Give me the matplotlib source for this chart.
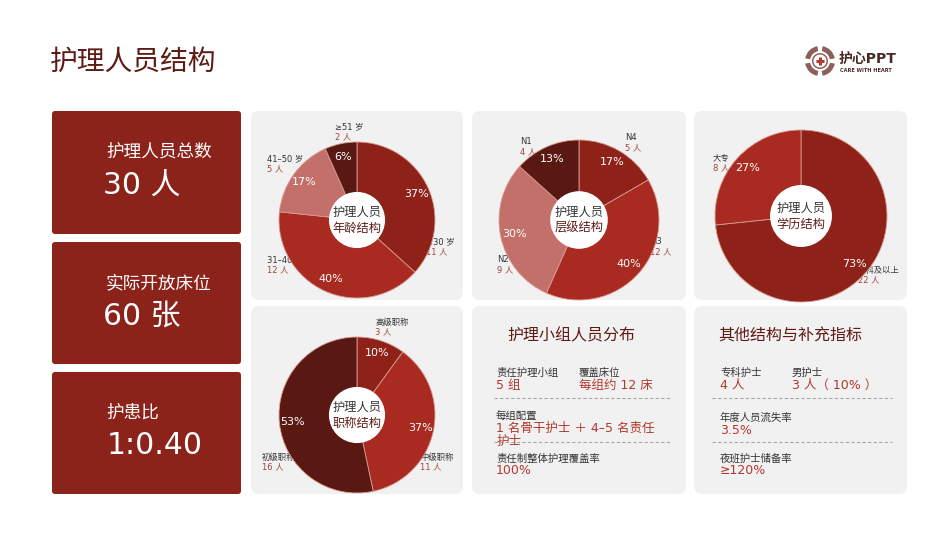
import matplotlib
matplotlib.use("Agg")
import matplotlib.pyplot as plt
from matplotlib.patches import FancyBboxPatch, Circle, Wedge
import numpy as np

plt.rcParams['font.family'] = ['DejaVu Sans', 'Noto Sans CJK SC']

# ---- data ----
age_names = ["≤30 岁", "31–40 岁", "41–50 岁", "≥51 岁"]
age_counts = [11, 12, 5, 2]
age_pcts = ["37%", "40%", "17%", "6%"]

level_names = ["N4", "N3", "N2", "N1"]
level_counts = [5, 12, 9, 4]
level_pcts = ["17%", "40%", "30%", "13%"]

edu_names = ["本科及以上", "大专"]
edu_counts = [22, 8]
edu_pcts = ["73%", "27%"]

rank_names = ["高级职称", "中级职称", "初级职称"]
rank_counts = [3, 11, 16]
rank_pcts = ["10%", "37%", "53%"]

card_labels = ["护理人员总数", "实际开放床位", "护患比"]
card_values = ["30 人", "60 张", "1:0.40"]

# ---- colours ----
CARD = "#8B231B"
PANEL = "#F2F1F1"
TITLE = "#5E1B14"
VALUE = "#B0392D"
COUNT = "#A0453B"
DARK = "#8E2219"
BRIGHT = "#A92A20"
PINK = "#C4706A"
DARKEST = "#5A1812"

W, H = 950, 535
fig = plt.figure(figsize=(W / 100, H / 100), dpi=100)
fig.patch.set_facecolor("white")
bg = fig.add_axes([0, 0, 1, 1])
bg.set_xlim(0, W)
bg.set_ylim(H, 0)
bg.axis("off")
bg.set_zorder(0)


def box(x0, y0, x1, y1, color, r):
    bg.add_patch(FancyBboxPatch((x0, y0), x1 - x0, y1 - y0,
                                boxstyle=f"round,pad=0,rounding_size={r}",
                                fc=color, ec="none"))


# title
bg.text(50, 62, "护理人员结构", fontsize=20, color=TITLE, va="center", ha="left")

# logo: broken ring, white disc, red cross
for a0, a1 in [(100, 170), (190, 260), (280, 350), (10, 80)]:
    bg.add_patch(Wedge((820, 61), 15, a0, a1, width=5, fc="#8d5f5a", ec="none"))
bg.add_patch(Circle((820, 61), 8, fc="#8d5f5a", ec="none"))
bg.add_patch(Circle((820, 61), 6.5, fc="white", ec="none"))
bg.plot([820, 820], [57, 65], color="#b33a30", lw=2.2, solid_capstyle="butt")
bg.plot([816, 824], [61, 61], color="#b33a30", lw=2.2, solid_capstyle="butt")
bg.text(839, 59, "护心PPT", fontsize=10, fontweight="bold", color="#4a2a27", va="center")
bg.text(840, 70, "CARE WITH HEART", fontsize=3.6, fontweight="bold", color="#4a2a27", va="center")

# left cards
card_rows = [(111, 234), (242, 364), (372, 494)]
card_val_x = [103, 103, 107]
for (y0, y1), lab, val, vx in zip(card_rows, card_labels, card_values, card_val_x):
    box(52, y0, 241, y1, CARD, 3)
    bg.text(106, y0 + 41, lab, fontsize=12.7, color="white", va="center")
    bg.text(vx, y0 + 74, val, fontsize=21.5, color="white", va="center")

# gray panels
cols = [(251, 463), (472, 686), (694, 907)]
rows = [(111, 300), (306, 494)]
for y0, y1 in rows:
    for x0, x1 in cols:
        box(x0, y0, x1, y1, PANEL, 8)


def donut(cx, cy, R, counts, pcts, names, colors, label_pos, center_line2):
    ax = fig.add_axes([(cx - R) / W, 1 - (cy + R) / H, 2 * R / W, 2 * R / H])
    ax.set_zorder(2)
    wedges, _ = ax.pie(counts, colors=colors, startangle=90, counterclock=False,
                       radius=1, wedgeprops=dict(linewidth=0.6, edgecolor="#d99a94"))
    ax.set_xlim(-1, 1)
    ax.set_ylim(-1, 1)
    ax.axis("off")
    for w in wedges:
        w.set_clip_on(False)
    total = sum(counts)
    start = 90.0
    for c, p in zip(counts, pcts):
        sweep = 360.0 * c / total
        mid = np.radians(start - sweep / 2)
        ax.text(0.83 * np.cos(mid), 0.83 * np.sin(mid), p, color="white",
                fontsize=8, ha="center", va="center")
        start -= sweep
    ax.add_patch(Circle((0, 0), 0.36, fc="white", ec="none", zorder=5))
    ax.text(0, 8 / R, "护理人员", fontsize=8.8, color="#333333", ha="center", va="center", zorder=6)
    ax.text(0, -8 / R, center_line2, fontsize=8.8, color=TITLE, ha="center", va="center", zorder=6)
    # outer labels, drawn on the background so the ring sits over them
    for (lx, ly), n, c in zip(label_pos, names, counts):
        bg.text(lx, ly, n, fontsize=6, color="#333333", ha="left", va="center")
        bg.text(lx, ly + 10, f"{c} 人", fontsize=6, color=COUNT, ha="left", va="center")


donut(357, 220, 78, age_counts, age_pcts, age_names, [DARK, BRIGHT, PINK, DARKEST],
      [(426, 242), (267, 260), (267, 159), (335, 127)], "年龄结构")
donut(579, 220, 80, level_counts, level_pcts, level_names, [DARK, BRIGHT, PINK, DARKEST],
      [(625, 138), (650, 242), (497, 260), (520, 142)], "层级结构")
donut(801, 216, 86, edu_counts, edu_pcts, edu_names, [DARK, BRIGHT],
      [(858, 270), (713, 158)], "学历结构")
donut(357, 415, 78, rank_counts, rank_pcts, rank_names, [DARK, BRIGHT, DARKEST],
      [(375, 322), (420, 457), (262, 457)], "职称结构")


def item(x, y, label, value):
    bg.text(x, y, label, fontsize=7.5, color="#333333", va="center")
    bg.text(x, y + 12, value, fontsize=9, color=VALUE, va="center")


def dash(x0, x1, y):
    bg.plot([x0, x1], [y, y], color="#a8a8a8", lw=0.8, ls=(0, (3, 2)))


# middle text panel
bg.text(507, 336, "护理小组人员分布", fontsize=11.5, color=TITLE, va="center")
item(496, 373, "责任护理小组", "5 组")
item(579, 373, "覆盖床位", "每组约 12 床")
dash(494, 670, 398)
item(496, 416, "每组配置", "1 名骨干护士 ＋ 4–5 名责任")
bg.text(496, 441, "护士", fontsize=9, color=VALUE, va="center")
dash(494, 670, 442)
item(496, 459, "责任制整体护理覆盖率", "100%")

# right text panel
bg.text(718, 336, "其他结构与补充指标", fontsize=11.5, color=TITLE, va="center")
item(720, 373, "专科护士", "4 人")
item(792, 373, "男护士", "3 人（ 10% ）")
dash(712, 892, 398)
item(720, 418, "年度人员流失率", "3.5%")
dash(712, 892, 442)
item(720, 459, "夜班护士储备率", "≥120%")

fig.savefig("out.png", dpi=100)
